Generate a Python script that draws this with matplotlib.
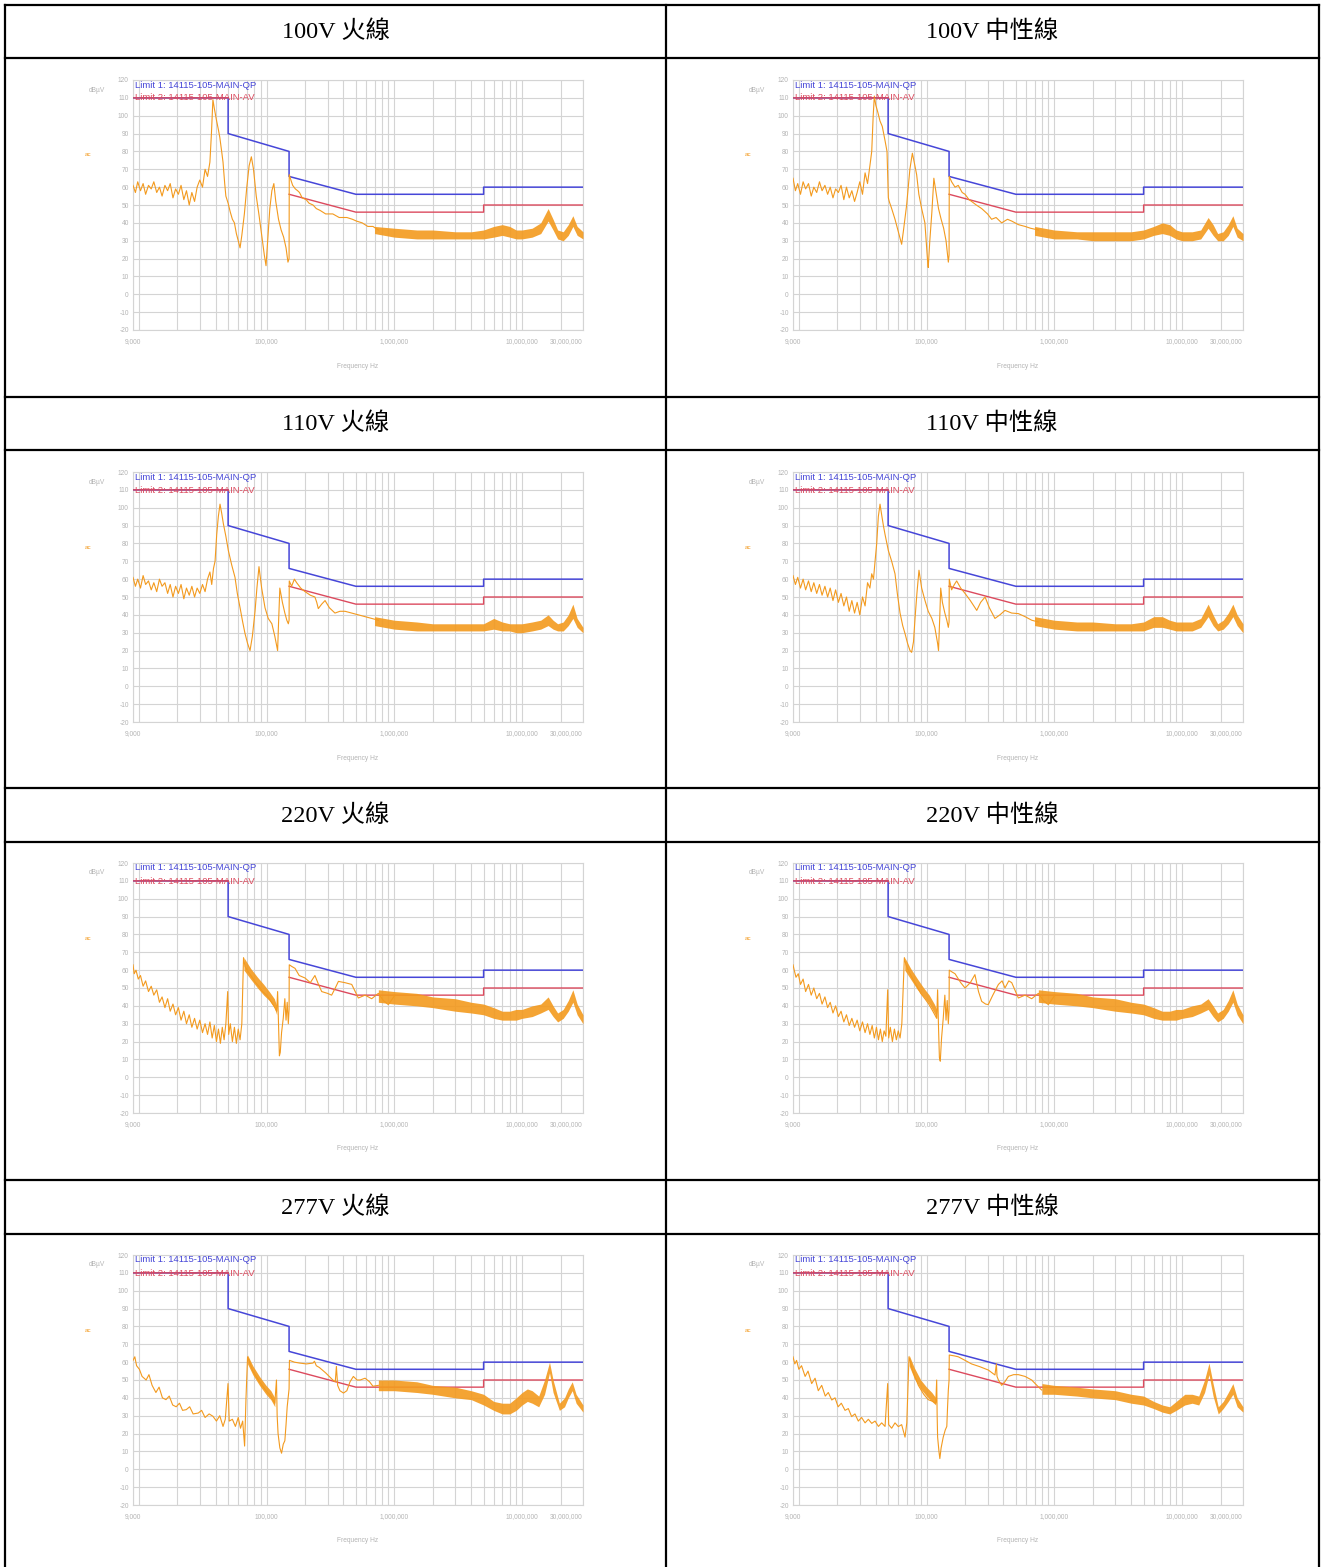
import numpy as np
import matplotlib
matplotlib.use('Agg')
import matplotlib.pyplot as plt
from matplotlib.lines import Line2D
from matplotlib.ticker import FixedLocator, NullFormatter

W, H = 1326, 1567

titles = ['100V 火線', '100V 中性線', '110V 火線', '110V 中性線',
          '220V 火線', '220V 中性線', '277V 火線', '277V 中性線']

# limit lines, frequency in kHz, level in dBuV
qp_khz = [9, 50, 50, 150, 150, 500, 5000, 5000, 30000]
qp_db = [110, 110, 90, 80, 66, 56, 56, 60, 60]
av_khz = [9, 50, np.nan, 150, 500, 5000, 5000, 30000]
av_db = [110, 110, np.nan, 56, 46, 46, 50, 50]

xtick_hz = [9e3, 1e5, 1e6, 1e7, 3e7]
xtick_labels = ['9,000', '100,000', '1,000,000', '10,000,000', '30,000,000']
ytick_db = list(range(-20, 121, 10))

# measured traces (kHz, dBuV)
tr1 = [(9, 61), (9.4, 57), (9.8, 63), (10.3, 58), (10.8, 62), (11.3, 56), (11.9, 61), (12.5, 59),
       (13.1, 63), (13.8, 57), (14.5, 60), (15.2, 55), (16, 61), (16.8, 58), (17.6, 62), (18.5, 54),
       (19.4, 59), (20.4, 56), (21.4, 61), (22.5, 53), (23.6, 58), (24.8, 50), (26, 57), (27.3, 52),
       (28.6, 60), (30, 64), (31.5, 60), (33, 70), (34.5, 66), (36, 74), (37, 90), (38, 109), (39, 104),
       (40.4, 98), (42, 92), (43, 88), (44.5, 80), (45.6, 74), (47, 62), (48, 55), (50, 51), (52, 46),
       (54, 42), (56, 40), (58, 34), (60, 30), (62, 26), (64, 33), (67, 45), (70, 60), (73, 72), (76, 77),
       (79, 70), (83, 55), (87, 45), (92, 32), (96, 22), (99, 16), (102, 30), (106, 48), (110, 58),
       (114, 62), (118, 52), (124, 42), (130, 36), (136, 32), (142, 26), (147, 18), (150, 20), (150.5, 67),
       (155, 64), (160, 61), (168, 59), (175, 58), (181, 57), (190, 54), (204, 53), (215, 51), (231, 50),
       (245, 48), (262, 47), (290, 45), (330, 45), (370, 43), (425, 43), (470, 42), (505, 41), (560, 40),
       (620, 38), (680, 38), (750, 36)]
tr2 = [(9, 65), (9.4, 58), (9.8, 62), (10.3, 56), (10.8, 63), (11.3, 59), (11.9, 62), (12.5, 55),
       (13.1, 60), (13.8, 57), (14.5, 63), (15.2, 58), (16, 61), (16.8, 56), (17.6, 60), (18.5, 54),
       (19.4, 59), (20.4, 57), (21.4, 61), (22.5, 53), (23.6, 60), (24.8, 54), (26, 58), (27.3, 52),
       (28.6, 57), (30, 63), (31.5, 56), (33, 68), (34.5, 62), (36, 72), (37.2, 80), (38.2, 100), (39, 111),
       (40, 106), (41.5, 102), (43.2, 97), (45, 94), (47.3, 86), (49, 80), (50.2, 54), (51, 52), (53.3, 48),
       (56.6, 42), (60.1, 35), (63.8, 28), (66, 36), (69.8, 50), (74, 70), (77.4, 79), (80, 74), (83.6, 67),
       (87, 56), (91.5, 48), (97, 40), (102, 18), (103, 15), (106, 30), (110, 46), (114, 65), (118, 58),
       (124, 48), (130, 42), (136, 37), (142, 30), (148, 18), (150, 22), (150.5, 66), (157, 63), (167, 60),
       (177, 61), (190, 57), (200, 56), (215, 53), (225, 52), (245, 50), (270, 48), (300, 45), (323, 42),
       (350, 43), (387, 40), (430, 42), (464, 41), (523, 39), (590, 38), (650, 37), (750, 36)]
tr3 = [(9, 61), (9.4, 56), (9.8, 60), (10.3, 55), (10.8, 62), (11.3, 57), (11.9, 59), (12.5, 54),
       (13.1, 58), (13.8, 53), (14.5, 60), (15.2, 56), (16, 58), (16.8, 52), (17.6, 57), (18.5, 50),
       (19.4, 56), (20.4, 52), (21.4, 57), (22.5, 49), (23.6, 55), (24.8, 51), (26, 56), (27.3, 50),
       (28.6, 55), (30, 52), (31.5, 57), (33, 53), (34.5, 60), (36, 64), (37.2, 57), (38.4, 66), (39.5, 70),
       (40.7, 85), (41.9, 95), (43.2, 102), (44.5, 97), (45.9, 91), (48, 84), (50.2, 76), (53.3, 68),
       (56.6, 61), (59, 52), (62, 44), (65, 36), (67.8, 29.5), (71, 24), (74.2, 20), (77.4, 28), (81.2, 42),
       (84, 55), (87.2, 67), (91.5, 55), (97.2, 44), (103, 38), (110, 35), (116, 28), (122, 20), (124, 35),
       (127, 55), (133, 47), (139, 41), (144, 37), (148, 35), (150, 37), (150.5, 59), (157, 56), (165, 60),
       (172, 58), (185, 55), (200, 53), (220, 51), (239, 50), (247, 47), (254, 43.5), (270, 46), (287, 48),
       (310, 44), (343, 41), (375, 42), (411, 42), (464, 41), (523, 40), (590, 39), (665, 38), (750, 37)]
tr4 = [(9, 62), (9.4, 57), (9.8, 61), (10.3, 55), (10.8, 60), (11.3, 54), (11.9, 59), (12.5, 53),
       (13.1, 58), (13.8, 52), (14.5, 57), (15.2, 51), (16, 56), (16.8, 50), (17.6, 55), (18.5, 48),
       (19.4, 54), (20.4, 47), (21.4, 52), (22.5, 45), (23.6, 50), (24.8, 42), (26, 48), (27.3, 41),
       (28.6, 47), (30, 40), (31.5, 50), (33, 45), (34.5, 58), (36, 55), (37.2, 63), (38.4, 60), (39.5, 70),
       (40.7, 80), (41.9, 95), (43.2, 102), (44.5, 96), (45.9, 90), (47.3, 85), (50.2, 76), (53.3, 70),
       (56.6, 63), (59, 52), (62, 41), (65, 34), (67.8, 29.5), (71, 24), (74.2, 20), (76.4, 19), (79, 25),
       (81.2, 38), (84, 52), (87.2, 65), (91.5, 55), (97.2, 48), (103, 42), (110, 38), (116, 33), (122, 24),
       (124, 20), (127, 40), (129, 55), (133, 47), (139, 41), (144, 37), (148, 33), (150, 36), (150.5, 60),
       (157, 54), (165, 57), (172, 59), (185, 55), (200, 52), (220, 48), (247, 42.5), (265, 47), (287, 50),
       (310, 44), (343, 38), (375, 40), (411, 42.5), (464, 41), (523, 40.7), (590, 39), (665, 37), (750, 36)]
tr5 = [(9, 63), (9.2, 58), (9.5, 60), (9.9, 55), (10.3, 57), (10.8, 51), (11.3, 54), (11.9, 48),
       (12.5, 51), (13.1, 46), (13.8, 49), (14.5, 42), (15.2, 45), (16, 39), (16.8, 44), (17.6, 37),
       (18.5, 41), (19.4, 35), (20.4, 39), (21.4, 32), (22.5, 37), (23.6, 30), (24.8, 35), (26, 28),
       (27.3, 33), (28.6, 27), (30, 32), (31.5, 25), (33, 30), (34.5, 24), (36, 31), (37.5, 22), (39, 29),
       (40.5, 20), (42, 27), (43.5, 19), (45, 28), (46.5, 21), (48, 30), (49.6, 48), (50.5, 24), (52, 30),
       (54, 20), (56, 28), (58, 19), (60, 27), (62, 21), (64, 30), (66, 67), (67.8, 62), (72, 59), (77, 56),
       (82, 53), (87, 51), (93, 48), (100, 46), (107, 43), (114, 40), (120, 37), (122, 48), (124, 30),
       (126, 12), (128, 14), (131, 25), (135, 33), (139, 44), (142, 32), (145, 42), (148, 30), (150, 38),
       (150.5, 63), (158, 62), (167, 61), (180, 57), (200, 55.6), (220, 53), (239, 57), (255, 52), (270, 48),
       (300, 47), (323, 46), (345, 50), (365, 53.7), (410, 53), (464, 52), (523, 44.4), (590, 46), (665, 44),
       (750, 47), (820, 43), (898, 40.7), (1012, 46)]
tr6 = [(9, 63), (9.2, 60), (9.5, 56), (9.9, 58), (10.3, 52), (10.8, 55), (11.3, 48), (11.9, 52),
       (12.5, 46), (13.1, 50), (13.8, 44), (14.5, 47), (15.2, 41), (16, 45), (16.8, 39), (17.6, 42),
       (18.5, 36), (19.4, 40), (20.4, 34), (21.4, 37), (22.5, 31), (23.6, 35), (24.8, 29), (26, 33),
       (27.3, 28), (28.6, 32), (30, 26), (31.5, 31), (33, 25), (34.5, 30), (36, 24), (37.5, 29), (39, 22),
       (40.5, 28), (42, 21), (43.5, 27), (45, 20), (46.5, 26), (48, 23), (49.6, 49), (50.5, 22), (52, 28),
       (54, 20), (56, 27), (58, 21), (60, 26), (62, 22), (64, 30), (67, 67), (69, 63), (73, 59), (78, 55),
       (84, 51), (90, 47), (97, 44), (104, 41), (110, 38), (116, 35), (120, 33), (122, 49), (124, 28),
       (126, 11), (128, 9), (131, 22), (135, 33), (139, 46), (142, 32), (145, 43), (148, 30), (150, 38),
       (150.5, 60), (158, 59), (167, 58), (185, 53), (200, 50), (220, 53), (239, 57.5), (255, 48),
       (270, 42.5), (290, 41), (304, 40.7), (330, 46), (365, 52), (390, 54), (411, 50), (440, 54), (464, 53),
       (523, 44.4), (590, 46), (665, 44), (750, 47), (820, 43), (898, 40.7), (1012, 46)]
tr7 = [(9, 61), (9.3, 63), (9.6, 58), (10.1, 56), (10.6, 52), (11.4, 50), (12, 53), (12.7, 47),
       (13.6, 43), (14.4, 46), (15.3, 40), (16.3, 39), (17.3, 41), (18.4, 36), (19.6, 35), (20.8, 37),
       (22, 33), (23.5, 33.4), (25, 35), (26.6, 31), (29.2, 31.5), (31, 33), (33, 29), (35.5, 31),
       (38, 29.7), (40.5, 27), (43, 30), (45.6, 24), (47.5, 28), (49.9, 48), (51, 27), (54, 28), (57, 24),
       (60, 29), (62.5, 23), (65, 27), (67.3, 13), (69, 40), (71, 63), (78, 55), (88, 49), (99, 44),
       (108, 41), (116, 37), (119.5, 50), (121, 30), (123, 20), (127, 12), (131, 9), (135, 14), (139, 16),
       (142, 25), (145, 35), (150, 45), (151, 61), (165, 60), (181, 59.5), (205, 59), (231, 59.5),
       (237, 60.5), (245, 58), (259, 57), (290, 54), (330, 50), (345, 49), (352, 57.6), (360, 47), (375, 44),
       (400, 42.7), (425, 44), (450, 49), (478, 52), (510, 50), (540, 50), (590, 51), (640, 49), (680, 46.5),
       (750, 47)]
tr8 = [(9, 63), (9.3, 59), (9.6, 61), (10, 56), (10.5, 58), (11.2, 52), (11.8, 55), (12.6, 48),
       (13.4, 51), (14.2, 44), (15.1, 47), (16.1, 41), (17, 43), (18.1, 38.8), (19.2, 40), (20.3, 35),
       (21.5, 37), (23, 33), (24.4, 34), (25.9, 29.5), (27.5, 31), (29.2, 27), (31, 29), (33, 26), (35, 28),
       (37.2, 25.7), (39.5, 27), (42, 24), (44.5, 26), (47.3, 24), (49.6, 48), (50.5, 25), (53.3, 23),
       (56.6, 26), (60.1, 23.9), (63.8, 25), (67.8, 18), (70, 26), (72.8, 63), (78, 55), (86.2, 47), (95, 42),
       (103, 39), (112, 38), (118, 37), (120, 50), (121, 30), (122, 18), (125, 10), (127, 6), (130, 12),
       (135, 18), (140, 22), (144, 24), (146, 35), (148, 44.4), (150, 50), (150.5, 64), (165, 63.5),
       (177, 63), (200, 61), (225, 59), (260, 57.5), (304, 55.6), (343, 52.8), (352, 59), (356, 52),
       (365, 50), (387, 47), (410, 49), (437, 52), (480, 53), (523, 53), (590, 52), (665, 50), (730, 47),
       (796, 44.4)]

# dense noise envelopes (kHz, low dBuV, high dBuV)
hf1 = [(700, 34, 38), (1000, 32, 37), (1500, 31, 36), (2000, 31, 36), (3000, 31, 35), (4000, 31, 35),
       (5000, 31, 36), (6000, 32, 38), (7000, 33, 39), (8000, 32, 38), (9000, 31, 36), (10000, 31, 36),
       (12000, 32, 37), (14000, 34, 40), (16000, 41, 48), (17500, 36, 42), (19000, 31, 36), (21000, 30, 35),
       (23000, 33, 39), (25000, 38, 44), (27000, 33, 38), (30000, 31, 35)]
hf2 = [(700, 33, 38), (1000, 31, 36), (1500, 31, 35), (2000, 30, 35), (3000, 30, 35), (4000, 30, 35),
       (5000, 31, 36), (6000, 33, 38), (7000, 34, 40), (8000, 33, 39), (9000, 31, 36), (10000, 30, 35),
       (12000, 30, 35), (14000, 31, 36), (16000, 37, 43), (17500, 33, 39), (19000, 30, 34), (21000, 30, 35),
       (23000, 33, 39), (25000, 38, 44), (27000, 32, 37), (30000, 30, 34)]
hf3 = [(700, 34, 39), (1000, 32, 37), (1500, 31, 36), (2000, 31, 35), (3000, 31, 35), (4000, 31, 35),
       (5000, 31, 35), (6000, 32, 38), (7000, 31, 36), (8000, 31, 35), (9000, 30, 35), (10000, 30, 35),
       (12000, 31, 36), (14000, 32, 37), (16000, 34, 40), (17500, 32, 37), (19000, 31, 35), (21000, 31, 36),
       (23000, 34, 40), (25000, 38, 46), (27000, 33, 38), (30000, 30, 33)]
hf4 = [(700, 34, 39), (1000, 32, 37), (1500, 31, 36), (2000, 31, 36), (3000, 31, 35), (4000, 31, 35),
       (5000, 31, 36), (6000, 33, 39), (7000, 33, 39), (8000, 32, 37), (9000, 31, 36), (10000, 31, 36),
       (12000, 31, 36), (14000, 33, 38), (16000, 39, 46), (17500, 34, 40), (19000, 31, 35), (21000, 32, 37),
       (23000, 35, 41), (25000, 39, 46), (27000, 34, 40), (30000, 30, 35)]
hf5 = [(750, 42, 49), (1000, 41, 48), (1500, 40, 47), (2000, 39, 45), (3000, 37, 44), (4000, 36, 42),
       (5000, 35, 41), (6000, 33, 39), (7000, 32, 37), (8000, 32, 37), (9000, 32, 38), (10000, 33, 38),
       (12000, 34, 40), (14000, 36, 41), (16000, 38, 45), (17500, 34, 40), (19000, 31, 36), (21000, 33, 38),
       (23000, 37, 43), (25000, 42, 49), (27000, 35, 41), (30000, 30, 35)]
hf6 = [(750, 42, 49), (1000, 41, 48), (1500, 40, 47), (2000, 39, 45), (3000, 37, 44), (4000, 36, 42),
       (5000, 35, 41), (6000, 33, 39), (7000, 32, 37), (8000, 32, 37), (9000, 32, 38), (10000, 33, 38),
       (12000, 34, 40), (14000, 36, 41), (16000, 38, 44), (17500, 34, 40), (19000, 31, 36), (21000, 33, 38),
       (23000, 37, 43), (25000, 42, 49), (27000, 35, 41), (30000, 30, 35)]
hf7 = [(750, 44, 50), (1000, 44, 50), (1500, 43, 49), (2000, 42, 47), (3000, 40, 46), (4000, 39, 44),
       (5000, 36, 42), (6000, 33, 38), (7000, 31, 37), (8000, 31, 37), (9000, 33, 40), (10000, 36, 43),
       (11000, 38, 45), (12000, 37, 44), (13500, 35, 41), (15000, 42, 50), (16400, 54, 60), (17500, 43, 50),
       (19600, 33, 37), (21500, 35, 40), (23000, 40, 45), (24700, 44, 49), (26500, 37, 42), (30000, 32, 36)]
hf8 = [(800, 42, 48), (1000, 42, 47), (1500, 41, 46), (2000, 40, 45), (3000, 39, 44), (4000, 37, 42),
       (5000, 36, 41), (6000, 34, 38), (7000, 32, 36), (8000, 31, 35), (9000, 33, 38), (10500, 36, 42),
       (12000, 37, 42), (13500, 36, 41), (15000, 43, 50), (16250, 53, 59.5), (17500, 41, 48),
       (19200, 31, 35), (21000, 34, 38), (23000, 38, 43), (25000, 42, 48), (27000, 35, 40), (30000, 32, 35)]

# thick sawtooth sections (kHz, low, high)
saw5 = [(66.5, 60, 67), (75, 55, 61), (85, 50, 56), (95, 46, 52), (105, 43, 48), (115, 39, 44), (120, 35, 40)]
saw6 = [(67.5, 60, 67), (75, 55, 61), (85, 49, 55), (95, 45, 50), (105, 41, 46), (115, 36, 41), (120, 33, 38)]
saw7 = [(71, 59, 64), (78, 53, 58), (88, 47, 52), (99, 42, 47), (108, 39, 44), (116, 35, 40)]
saw8 = [(73, 58, 64), (80, 51, 57), (90, 45, 50), (100, 41, 46), (110, 38, 43), (118, 36, 40)]

traces = [tr1, tr2, tr3, tr4, tr5, tr6, tr7, tr8]
bands = [hf1, hf2, hf3, hf4, hf5, hf6, hf7, hf8]
saws = [None, None, None, None, saw5, saw6, saw7, saw8]

orange = '#F39A1E'
blue = '#4646D8'
red = '#DC4A5E'
grid_c = '#d4d4d4'
txt_c = '#b4b4b4'

plt.rcParams['font.family'] = ['Liberation Sans', 'DejaVu Sans']

fig = plt.figure(figsize=(W / 100, H / 100), dpi=100)

# table frame (pixel coords)
def hline(y, x0=5, x1=1319):
    fig.add_artist(Line2D([x0 / W, x1 / W], [1 - y / H, 1 - y / H], color='black', lw=1.6,
                          transform=fig.transFigure))

def vline(x, y0=5, y1=1567):
    fig.add_artist(Line2D([x / W, x / W], [1 - y0 / H, 1 - y1 / H], color='black', lw=1.6,
                          transform=fig.transFigure))

for y in [5, 58, 397, 450, 788, 842, 1180, 1234]:
    hline(y)
for x in [5, 666, 1319]:
    vline(x)

col_x = [133, 793]
col_cx = [335.5, 992]
row_y = [80, 472, 863, 1255]
head_y = [32, 424, 816, 1208]

minor_hz = [k * 10 ** e for e in range(4, 8) for k in range(1, 10) if k * 10 ** e <= 3e7]

def to_hz(vals):
    return np.array(vals, dtype=float) * 1e3

for i in range(8):
    r, c = divmod(i, 2)
    fig.text(col_cx[c] / W, 1 - head_y[r] / H, titles[i], ha='center', va='center', fontsize=17.5,
             family=['Liberation Serif', 'Noto Sans CJK TC'])

    ax = fig.add_axes([col_x[c] / W, 1 - (row_y[r] + 250) / H, 450 / W, 250 / H])
    ax.set_xscale('log')
    ax.set_xlim(9e3, 3e7)
    ax.set_ylim(-20, 120)

    ax.plot(to_hz(qp_khz), qp_db, color=blue, lw=1.1, zorder=3)
    ax.plot(to_hz(av_khz), av_db, color=red, lw=1.0, zorder=3)

    f, v = zip(*traces[i])
    ax.plot(to_hz(f), v, color=orange, lw=0.8, zorder=4)
    bf, lo, hi = zip(*bands[i])
    ax.fill_between(to_hz(bf), lo, hi, color=orange, lw=0, alpha=0.9, zorder=4)
    if saws[i] is not None:
        sf, slo, shi = zip(*saws[i])
        ax.fill_between(to_hz(sf), slo, shi, color=orange, lw=0, alpha=0.9, zorder=4)

    ax.xaxis.set_major_locator(FixedLocator(xtick_hz))
    ax.set_xticklabels(xtick_labels)
    ax.xaxis.set_minor_locator(FixedLocator(minor_hz))
    ax.xaxis.set_minor_formatter(NullFormatter())
    ax.set_yticks(ytick_db)
    ax.set_yticklabels([str(t) for t in ytick_db])
    ax.get_xticklabels()[-1].set_ha('right')
    ax.tick_params(which='both', length=0, labelsize=4.8, labelcolor=txt_c)
    ax.tick_params(axis='x', pad=6)
    ax.tick_params(axis='y', pad=3)
    ax.grid(True, which='both', color=grid_c, lw=0.8, zorder=0)
    for s in ax.spines.values():
        s.set_color(grid_c)
        s.set_linewidth(0.8)

    ax.text(0.005, 0.98, 'Limit 1: 14115-105-MAIN-QP', transform=ax.transAxes, color=blue,
            fontsize=6.8, ha='left', va='center', zorder=6)
    ax.text(0.005, 0.928, 'Limit 2: 14115-105-MAIN-AV', transform=ax.transAxes, color=red,
            fontsize=6.8, ha='left', va='center', zorder=6)
    ax.text(-0.08, 0.96, 'dBµV', transform=ax.transAxes, color=txt_c, fontsize=4.8,
            ha='center', va='center')
    ax.text(-0.1, 0.70, 'ac', transform=ax.transAxes, color=orange, fontsize=4.5,
            ha='center', va='center')
    ax.text(0.5, -0.144, 'Frequency Hz', transform=ax.transAxes, color=txt_c, fontsize=4.8,
            ha='center', va='center')

fig.savefig('out.png', dpi=100)
